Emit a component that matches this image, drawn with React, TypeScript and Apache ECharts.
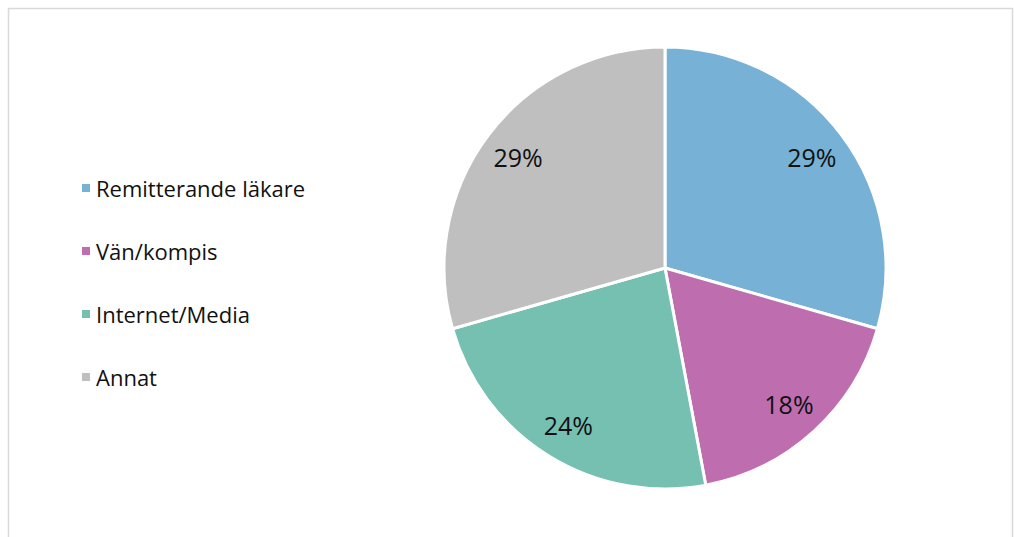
import React, { useEffect, useRef } from "react";
import * as echarts from "echarts";

const categories = ["Remitterande läkare", "Vän/kompis", "Internet/Media", "Annat"];
const values = [29.4, 17.6, 23.5, 29.4];
const colors = ["#77B2D6", "#BE6DAE", "#76C0B2", "#BFBFBF"];

export default function App() {
  const ref = useRef<HTMLDivElement>(null);
  useEffect(() => {
    const chart = echarts.init(ref.current!, null, { renderer: "svg" });
    const data = categories.map((name, i) => ({ name, value: values[i], itemStyle: { color: colors[i] } }));
    const font = "'Open Sans', sans-serif";
    chart.setOption({
      animation: false,
      backgroundColor: "#ffffff",
      graphic: [
        {
          type: "rect",
          shape: { x: 8.5, y: 8.5, width: 1004, height: 540 },
          style: { fill: "none", stroke: "#d9d9d9", lineWidth: 1.5 },
          silent: true,
        },
      ],
      legend: {
        orient: "vertical",
        left: 75,
        top: 172,
        itemWidth: 10,
        itemHeight: 10,
        itemGap: 41,
        icon: "rect",
        data: categories,
        textStyle: { fontFamily: font, fontSize: 22, lineHeight: 22, color: "#111111", padding: [0, 0, 0, 0] },
      },
      series: [
        {
          type: "pie",
          center: [665, 268],
          radius: [0, 221],
          startAngle: 90,
          clockwise: true,
          data,
          label: { show: false },
          labelLine: { show: false },
          itemStyle: { borderColor: "#ffffff", borderWidth: 3 },
          emphasis: { disabled: true },
          silent: true,
        },
        {
          type: "pie",
          center: [665, 268],
          radius: [141, 221],
          startAngle: 90,
          clockwise: true,
          percentPrecision: 0,
          data: categories.map((name, i) => ({ name, value: values[i] })),
          itemStyle: { color: "transparent", borderWidth: 0 },
          label: {
            show: true,
            position: "inside",
            formatter: "{d}%",
            fontFamily: font,
            fontSize: 25,
            color: "#111111",
          },
          labelLine: { show: false },
          emphasis: { disabled: true },
          silent: true,
          legendHoverLink: false,
        },
      ],
    });
    return () => chart.dispose();
  }, []);
  return <div ref={ref} style={{ position: "fixed", left: 0, top: 0, width: 1014, height: 537 }} />;
}
